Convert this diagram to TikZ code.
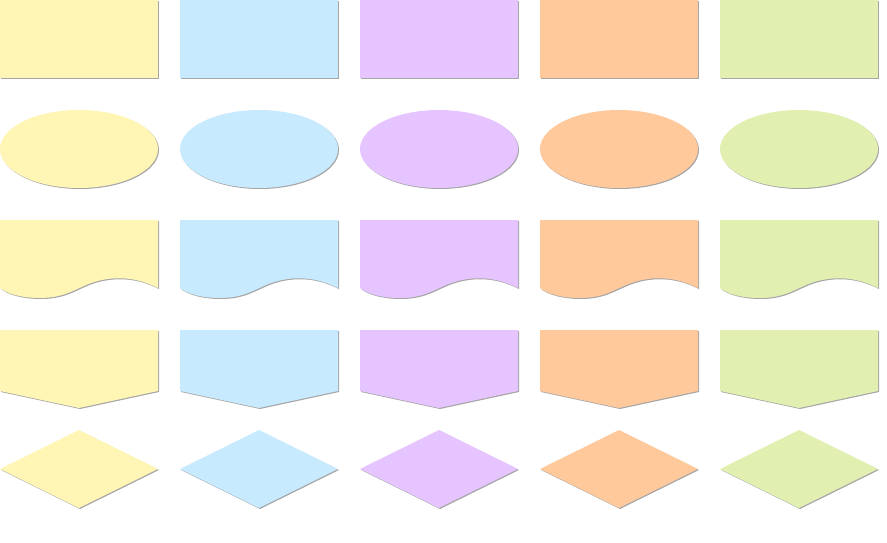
\documentclass[tikz,border=0pt]{standalone}
\usepackage{tikz}
\definecolor{padyellow}{HTML}{FFF5B4}
\definecolor{padblue}{HTML}{C8EAFF}
\definecolor{padpurple}{HTML}{E6C4FF}
\definecolor{padorange}{HTML}{FFC99C}
\definecolor{padgreen}{HTML}{E1F0B1}
\def\shapeset#1#2{%
	% shadow copy first, then the filled shape
	\begin{scope}[xshift=#1+1, yshift=-1]
		\fill[black!35] (0,0) rectangle (158,-78);
		\fill[black!35] (79,-149) ellipse (79 and 39);
		\fill[black!35] (0,-220) -- (158,-220) -- (158,-288) .. controls (140,-279) and (122,-276) .. (102,-280) .. controls (78,-285) and (70,-298) .. (40,-298) .. controls (20,-298) and (6,-293) .. (0,-288) -- cycle;
		\fill[black!35] (0,-330) -- (158,-330) -- (158,-391) -- (79,-408) -- (0,-391) -- cycle;
		\fill[black!35] (0,-469) -- (79,-430) -- (158,-469) -- (79,-508) -- cycle;
	\end{scope}
	\begin{scope}[xshift=#1]
		\fill[#2] (0,0) rectangle (158,-78);
		\fill[#2] (79,-149) ellipse (79 and 39);
		\fill[#2] (0,-220) -- (158,-220) -- (158,-288) .. controls (140,-279) and (122,-276) .. (102,-280) .. controls (78,-285) and (70,-298) .. (40,-298) .. controls (20,-298) and (6,-293) .. (0,-288) -- cycle;
		\fill[#2] (0,-330) -- (158,-330) -- (158,-391) -- (79,-408) -- (0,-391) -- cycle;
		\fill[#2] (0,-469) -- (79,-430) -- (158,-469) -- (79,-508) -- cycle;
	\end{scope}}

\begin{document}
\begin{tikzpicture}[x=1pt, y=1pt]
			%%%%% START %%%%%
			\useasboundingbox (0,0) rectangle (887,-543);
			
			\foreach \col/\tint in {0/padyellow, 180/padblue, 360/padpurple, 540/padorange, 720/padgreen}
			{\shapeset{\col}{\tint}}
			
			%%%%% END %%%%%
\end{tikzpicture}
\end{document}
